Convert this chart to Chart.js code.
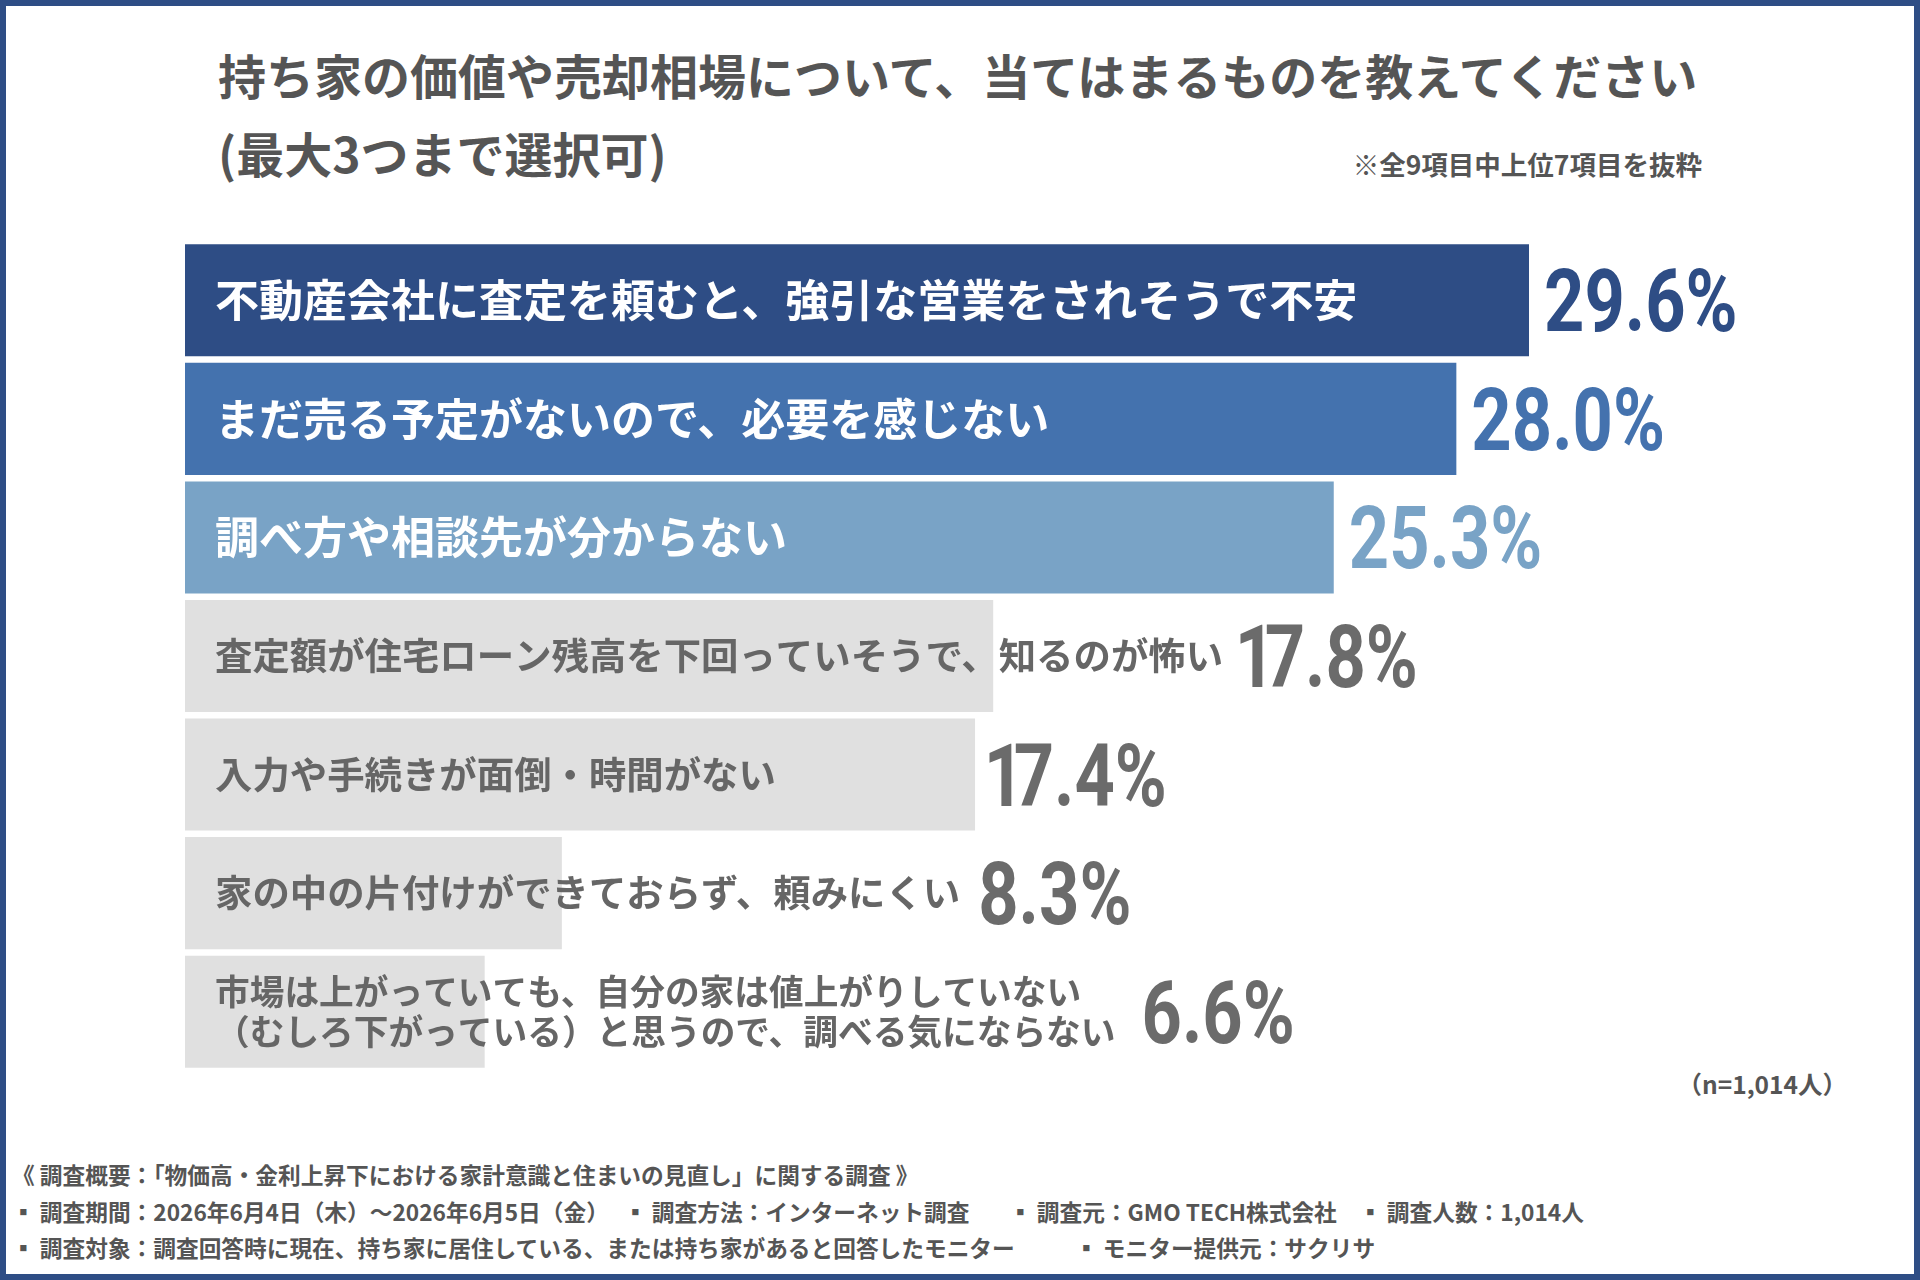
<!DOCTYPE html>
<html lang="ja">
<head>
<meta charset="utf-8">
<script src="https://cdn.jsdelivr.net/npm/chart.js@4.4.1/dist/chart.umd.min.js"></script>
<style>
  body { margin: 0; background: #fff; }
  #frame {
    position: relative; width: 1920px; height: 1280px; box-sizing: border-box;
    border: 6px solid #2e4d85; background: #fff; overflow: hidden;
    font-family: 'Noto Sans CJK JP', 'Noto Sans', sans-serif; font-weight: 700; color: #555;
  }
  .t { position: absolute; white-space: pre; line-height: 1; }
  .f { font-size: 22.7px; }
  #chartBox { position: absolute; left: 179px; top: 235px; width: 1680px; height: 830px; }
</style>
</head>
<body>
<div id="frame">
  <div class="t" style="left:212px; top:44px; font-size:48px;">持ち家の価値や売却相場について、当てはまるものを教えてください</div>
  <div class="t" style="left:212px; top:122px; font-size:48px;">(最大3つまで選択可)</div>
  <div class="t" style="right:212px; top:145px; font-size:26.5px;">※全9項目中上位7項目を抜粋</div>
  <div class="t" style="right:67px; top:1066px; font-size:24.5px;">（n=1,014人）</div>

  <div class="t f" style="left:6px; top:1158px;">《 調査概要：「物価高・金利上昇下における家計意識と住まいの見直し」に関する調査 》</div>
  <div class="t f" style="left:6px; top:1195px;">▪ 調査期間：2026年6月4日（木）～2026年6月5日（金）</div>
  <div class="t f" style="left:618px; top:1195px;">▪ 調査方法：インターネット調査</div>
  <div class="t f" style="left:1003px; top:1195px;">▪ 調査元：GMO TECH株式会社</div>
  <div class="t f" style="left:1353px; top:1195px;">▪ 調査人数：1,014人</div>
  <div class="t f" style="left:6px; top:1231px;">▪ 調査対象：調査回答時に現在、持ち家に居住している、または持ち家があると回答したモニター</div>
  <div class="t f" style="left:1069px; top:1231px;">▪ モニター提供元：サクリサ</div>

  <div id="chartBox"><canvas id="chart"></canvas></div>
</div>

<script>
// 回答項目（上位7項目）
const categories = [
  ['不動産会社に査定を頼むと、強引な営業をされそうで不安'],
  ['まだ売る予定がないので、必要を感じない'],
  ['調べ方や相談先が分からない'],
  ['査定額が住宅ローン残高を下回っていそうで、知るのが怖い'],
  ['入力や手続きが面倒・時間がない'],
  ['家の中の片付けができておらず、頼みにくい'],
  ['市場は上がっていても、自分の家は値上がりしていない', '（むしろ下がっている）と思うので、調べる気にならない']
];
const values = [29.6, 28.0, 25.3, 17.8, 17.4, 8.3, 6.6];

const barColors = ['#2e4d85', '#4472ae', '#79a3c6', '#e0e0e0', '#e0e0e0', '#e0e0e0', '#e0e0e0'];
const valueColors = ['#2e4d85', '#4472ae', '#79a3c6', '#6b6b6b', '#6b6b6b', '#6b6b6b', '#6b6b6b'];
const labelColors = ['#fff', '#fff', '#fff', '#666', '#666', '#666', '#666'];
const labelSizes = [44, 44, 44, 37.4, 37.4, 37.4, 34.7];

// 数値ラベル（DIN風に横方向を詰める）
function drawValue(ctx, text, x, y, color) {
  ctx.save();
  ctx.translate(x, y);
  ctx.scale(0.8, 1);
  ctx.font = "700 88px Roboto";
  ctx.fillStyle = color;
  ctx.textAlign = 'left';
  ctx.textBaseline = 'alphabetic';
  let cx = 0;
  for (const ch of text) {
    const w = ctx.measureText(ch).width;
    if (ch === '1') {
      ctx.fillText(ch, cx - 8, 0);
      cx += w - 21;
    } else {
      ctx.fillText(ch, cx, 0);
      cx += w;
    }
  }
  ctx.restore();
}

const barLabels = {
  id: 'barLabels',
  afterDatasetsDraw(chart) {
    const ctx = chart.ctx;
    const meta = chart.getDatasetMeta(0);
    meta.data.forEach((bar, i) => {
      const lines = categories[i];
      const x0 = bar.base + 30;
      ctx.save();
      ctx.font = `700 ${labelSizes[i]}px 'Noto Sans CJK JP'`;
      ctx.fillStyle = labelColors[i];
      ctx.textAlign = 'left';
      ctx.textBaseline = 'middle';
      const lh = 40;
      let textEnd = 0;
      lines.forEach((ln, k) => {
        const y = bar.y + (k - (lines.length - 1) / 2) * lh;
        ctx.fillText(ln, x0, y);
        textEnd = Math.max(textEnd, x0 + ctx.measureText(ln).width);
      });
      ctx.restore();

      let vx = bar.x + 15;
      if (textEnd > bar.x) vx = textEnd + (lines.length > 1 ? 26 : 18);
      drawValue(ctx, values[i].toFixed(1) + '%', vx, bar.y + 31, valueColors[i]);
    });
  }
};

new Chart(document.getElementById('chart'), {
  type: 'bar',
  data: {
    labels: categories,
    datasets: [{
      data: values,
      backgroundColor: barColors,
      borderWidth: 0,
      barPercentage: 0.945,
      categoryPercentage: 1
    }]
  },
  options: {
    indexAxis: 'y',
    responsive: true,
    maintainAspectRatio: false,
    animation: false,
    devicePixelRatio: 1,
    layout: { padding: 0 },
    plugins: { legend: { display: false }, tooltip: { enabled: false } },
    scales: {
      x: { display: false, min: 0, max: 37 },
      y: { display: false }
    }
  },
  plugins: [barLabels]
});
</script>
</body>
</html>
